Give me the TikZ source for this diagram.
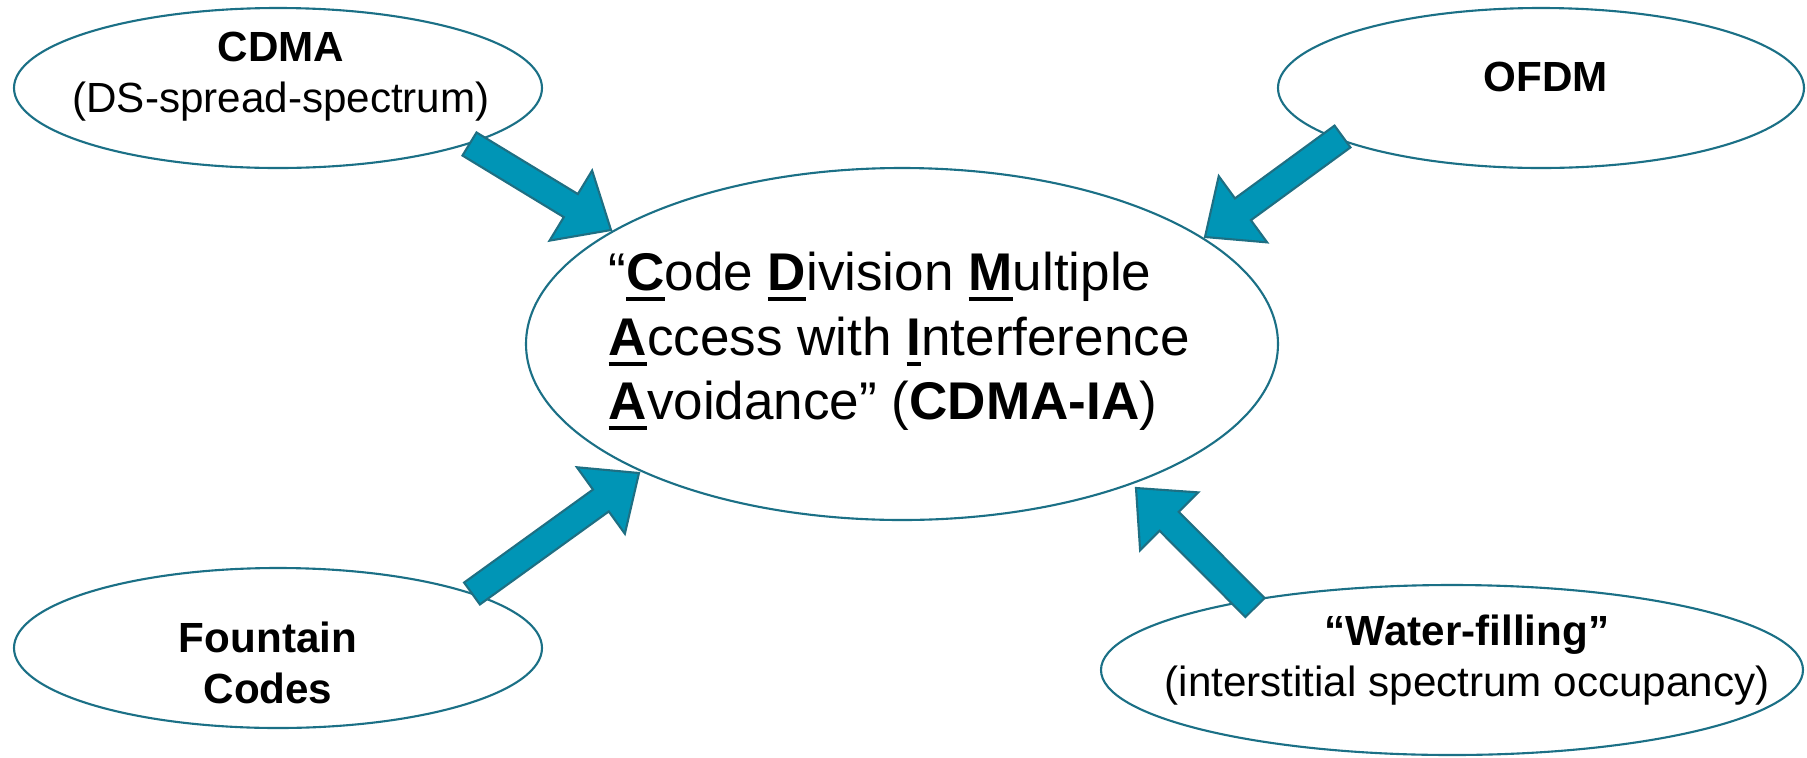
\documentclass[tikz,border=0pt]{standalone}
\usepackage{fontspec}
\setmainfont{Liberation Sans}
\usetikzlibrary{calc,shapes.geometric}
\definecolor{ovalline}{HTML}{1B7086}
\definecolor{arrfill}{HTML}{0095B6}
\definecolor{arredge}{HTML}{1E6F83}
\newcommand\ubf[1]{\textbf{\setbox0\hbox{#1}\rlap{\rule[-3pt]{\wd0}{1.1pt}}\box0}}
\newcommand\blockarr[2]{%
  \coordinate (hb) at ($(#2)!4.7mm!(#1)$);
  \draw[blockarrow] ($(#1)!1.35mm!90:(#2)$) -- ($(hb)!1.35mm!90:(#2)$) -- ($(hb)!4.1mm!90:(#2)$) -- (#2) -- ($(hb)!4.1mm!-90:(#2)$) -- ($(hb)!1.35mm!-90:(#2)$) -- ($(#1)!1.35mm!-90:(#2)$) -- cycle;}
\begin{document}
\begin{tikzpicture}[x=0.1mm,y=-0.1mm,
  ovalnode/.style={draw=ovalline, line width=0.6pt, ellipse, inner sep=0pt, fill=white},
  smalltxt/.style={font=\fontsize{12pt}{14.5pt}\selectfont, align=center, inner sep=0pt},
  bigtxt/.style={font=\fontsize{15.1pt}{18pt}\selectfont, inner sep=0pt, anchor=base west},
  blockarrow/.style={fill=arrfill, draw=arredge, line width=0.6pt, line join=miter}]
\path[use as bounding box] (0,0) rectangle (1807,758);
\fill[white] (0,0) rectangle (1807,758);

\node[ovalnode, minimum width=75.2mm, minimum height=35.2mm] (ia) at (902,344) {};
\node[ovalnode, minimum width=52.8mm, minimum height=16mm] (cdma) at (278,88) {};
\node[ovalnode, minimum width=52.6mm, minimum height=16mm] (ofdm) at (1541,88) {};
\node[ovalnode, minimum width=52.8mm, minimum height=16mm] (fount) at (278,648) {};
\node[ovalnode, minimum width=70.2mm, minimum height=17mm] (water) at (1452,670) {};

\node[smalltxt] (cdmat) at (281,76.5) {\textbf{CDMA}\\(DS-spread-spectrum)};
\node[smalltxt] (ofdmt) at (1546,77) {\textbf{OFDM}};
\node[smalltxt] (fountt) at (268,663) {\textbf{Fountain}\\\textbf{Codes}};
\node[smalltxt] (watert) at (1467,660) {\textbf{“Water-filling”}\\(interstitial spectrum occupancy)};

\node[bigtxt] (l1) at (608,290) {“\ubf{C}ode \ubf{D}ivision \ubf{M}ultiple};
\node[bigtxt] (l2) at (608,355) {\ubf{A}ccess with \ubf{I}nterference};
\node[bigtxt] (l3) at (608,419) {\ubf{A}voidance” (\textbf{CDMA-IA})};

\coordinate (a1t) at (469.5,144);
\coordinate (a1h) at (611,230);
\coordinate (a2t) at (1342.5,136.5);
\coordinate (a2h) at (1205,237);
\coordinate (a3t) at (472,593.5);
\coordinate (a3h) at (639,473);
\coordinate (a4t) at (1255,607.5);
\coordinate (a4h) at (1136,488);
\blockarr{a1t}{a1h}
\blockarr{a2t}{a2h}
\blockarr{a3t}{a3h}
\blockarr{a4t}{a4h}
\end{tikzpicture}
\end{document}
